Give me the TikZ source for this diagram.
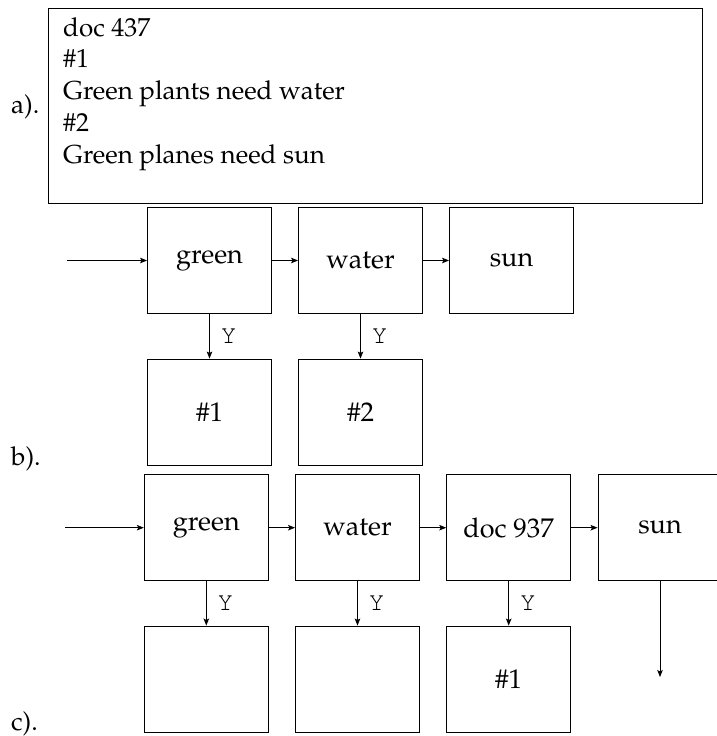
\documentclass[tikz,border=0pt]{standalone}
\usepackage[T1]{fontenc}
\usepackage{palatino}
\usetikzlibrary{arrows.meta}
\tikzset{
  cell/.style={draw, line width=0.9pt, minimum width=124pt, minimum height=106pt, inner sep=0pt, font=\fontsize{27}{32}\selectfont},
  link/.style={line width=0.8pt, -{Stealth[length=7pt,width=5.5pt,inset=1.5pt]}},
  ylab/.style={right, inner sep=0pt, xshift=11pt, font=\fontsize{26}{30}\ttfamily},
  tag/.style={anchor=base west, inner sep=0pt, font=\fontsize{26}{30}\selectfont}
}
\begin{document}
\begin{tikzpicture}[x=1pt,y=-1pt]
\useasboundingbox (0,0) rectangle (717,736);
% a)
\node[draw, line width=0.9pt, minimum width=654.4pt, minimum height=195pt, inner sep=0pt] (docbox) at (375.5,105.8) {};
\node[anchor=base west, inner sep=0pt, font=\fontsize{26}{31.9}\selectfont] (doctext) at (63,36)
  {\vtop{\hbox{doc 437}\hbox{\#1}\hbox{Green plants need water}\hbox{\#2}\hbox{Green planes need sun}}};
\node[tag] (la) at (11,113) {a).};
\node[tag] (lb) at (11,465) {b).};
\node[tag] (lc) at (11,730) {c).};
% b)
\node[cell] (bg) at (209.5,260.5) {green};
\node[cell] (bw) at (360.5,260.5) {water};
\node[cell] (bs) at (511.5,260.5) {sun};
\node[cell] (b1) at (209.5,412) {\#1};
\node[cell] (b2) at (360.5,412) {\#2};
\coordinate (bin) at (67,260.5);
\draw[link] (bin) -- (bg);
\draw[link] (bg) -- (bw);
\draw[link] (bw) -- (bs);
\draw[link] (bg) -- node[ylab]{Y} (b1);
\draw[link] (bw) -- node[ylab]{Y} (b2);
% c)
\node[cell] (cg) at (206.3,527.7) {green};
\node[cell] (cw) at (357.5,527.7) {water};
\node[cell] (cd) at (508.7,527.7) {doc 937};
\node[cell] (cs) at (660,527.7) {sun};
\node[cell] (c1) at (206.3,679) {};
\node[cell] (c2) at (357.5,679) {};
\node[cell] (c3) at (508.7,679) {\#1};
\coordinate (cin) at (65,527.7);
\coordinate (cend) at (660,677);
\draw[link] (cin) -- (cg);
\draw[link] (cg) -- (cw);
\draw[link] (cw) -- (cd);
\draw[link] (cd) -- (cs);
\draw[link] (cg) -- node[ylab]{Y} (c1);
\draw[link] (cw) -- node[ylab]{Y} (c2);
\draw[link] (cd) -- node[ylab]{Y} (c3);
\draw[link] (cs) -- (cend);
\end{tikzpicture}
\end{document}
